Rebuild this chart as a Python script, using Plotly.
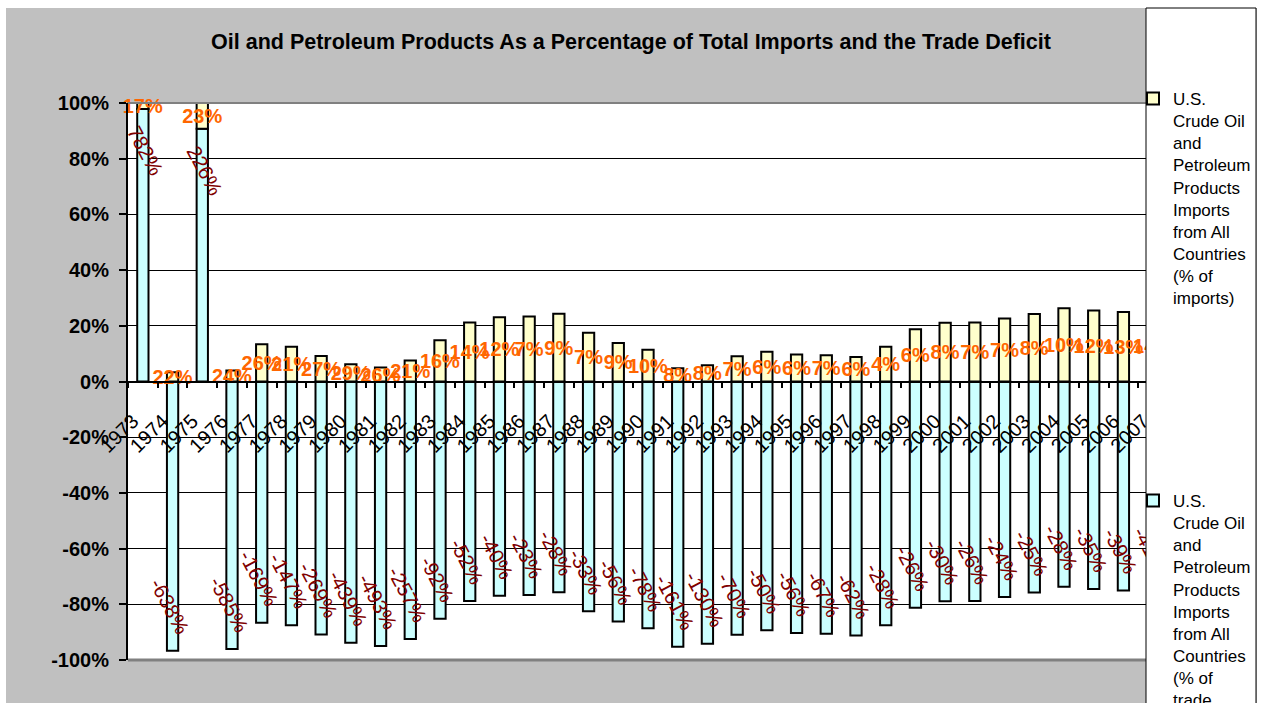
import plotly.graph_objects as go

# ---------------- data ----------------
years = ["1973", "1974", "1975", "1976", "1977", "1978", "1979", "1980", "1981", "1982",
         "1983", "1984", "1985", "1986", "1987", "1988", "1989", "1990", "1991", "1992",
         "1993", "1994", "1995", "1996", "1997", "1998", "1999", "2000", "2001", "2002",
         "2003", "2004", "2005", "2006", "2007"]
# U.S. crude oil and petroleum products imports, % of total imports
imports_pct = [17, 22, 23, 24, 26, 21, 27, 29, 26, 21,
               16, 14, 12, 7, 9, 7, 9, 10, 8, 8,
               7, 6, 6, 7, 6, 4, 6, 8, 7, 7,
               8, 10, 12, 13, 14]
# U.S. crude oil and petroleum products imports, % of trade deficit
deficit_pct = [782, -638, 226, -585, -169, -147, -269, -439, -493, -257,
               -92, -52, -40, -23, -28, -33, -56, -78, -161, -130,
               -70, -50, -56, -67, -62, -28, -26, -30, -26, -24,
               -25, -28, -35, -39, -41]
y_tick_vals = [100, 80, 60, 40, 20, 0, -20, -40, -60, -80, -100]
y_tick_text = ["100%", "80%", "60%", "40%", "20%", "0%", "-20%", "-40%", "-60%", "-80%", "-100%"]

title_text = "Oil and Petroleum Products As a Percentage of Total Imports and the Trade Deficit"
name_imports = "U.S.<br>Crude Oil<br>and<br>Petroleum<br>Products<br>Imports<br>from All<br>Countries<br>(% of<br>imports)"
name_deficit = "U.S.<br>Crude Oil<br>and<br>Petroleum<br>Products<br>Imports<br>from All<br>Countries<br>(% of<br>trade<br>deficit)"

# 100% stacked column: each category normalised by the sum of absolute values
totals = [abs(a) + abs(b) for a, b in zip(imports_pct, deficit_pct)]
imports_share = [a / t * 100 for a, t in zip(imports_pct, totals)]
deficit_share = [b / t * 100 for b, t in zip(deficit_pct, totals)]

NB = "\u00a0\u00a0"
imports_text = [f"{v}%" for v in imports_pct]
deficit_text = [(f"{v}%" + NB) if v < 0 else (NB + f"{v}%") for v in deficit_pct]

# ---------------- geometry ----------------
W, H = 1262, 703
L, R = 128, 1168
T, B = 103, 660


def px_x(px):
    return (px - L) / (R - L)


def px_y(py):
    return (B - py) / (B - T)


FONT = "Liberation Sans, Arial, sans-serif"

fig = go.Figure()
fig.add_trace(go.Bar(
    x=years, y=deficit_share, name=name_deficit,
    marker=dict(color="#CCFFFF", line=dict(color="black", width=2)),
    text=deficit_text, textposition="inside", insidetextanchor="end",
    textangle=62, constraintext="none", cliponaxis=False,
    textfont=dict(family=FONT, size=20.5, color="#800000"),
    legendgroup="deficit", legendrank=2, hoverinfo="skip",
))
fig.add_trace(go.Bar(
    x=years, y=imports_share, name=name_imports,
    marker=dict(color="#FFFFCC", line=dict(color="black", width=2)),
    text=imports_text, textposition="inside", insidetextanchor="middle",
    textangle=0, constraintext="none", cliponaxis=False,
    textfont=dict(family=FONT, size=20, color="#FF6600", weight="bold"),
    legendgroup="imports", legendrank=1, hoverinfo="skip",
))

shapes = [
    # white margins outside the grey chart area
    dict(type="rect", xref="paper", yref="paper", x0=px_x(0), x1=px_x(W), y0=px_y(8), y1=px_y(0),
         fillcolor="white", line=dict(width=0), layer="below"),
    dict(type="rect", xref="paper", yref="paper", x0=px_x(0), x1=px_x(6), y0=px_y(H), y1=px_y(0),
         fillcolor="white", line=dict(width=0), layer="below"),
    dict(type="rect", xref="paper", yref="paper", x0=px_x(1257), x1=px_x(W), y0=px_y(H), y1=px_y(0),
         fillcolor="white", line=dict(width=0), layer="below"),
    # plot-area border (top / bottom)
    dict(type="line", xref="paper", yref="paper", x0=0, x1=1, y0=1, y1=1,
         line=dict(color="#808080", width=2), layer="above"),
    dict(type="line", xref="paper", yref="paper", x0=0, x1=1, y0=0, y1=0,
         line=dict(color="#808080", width=3), layer="above"),
    # legend box
    dict(type="rect", xref="paper", yref="paper", x0=px_x(1146), x1=px_x(1256), y0=px_y(720), y1=px_y(8),
         fillcolor="white", line=dict(color="black", width=1), layer="above"),
]

fig.update_layout(
    width=W, height=H,
    margin=dict(l=L, r=W - R, t=T, b=H - B, autoexpand=False),
    paper_bgcolor="#C0C0C0", plot_bgcolor="white",
    barmode="relative", bargap=0.62,
    font=dict(family=FONT, color="black"),
    title=dict(text=title_text, x=0.5, xref="container", xanchor="center",
               y=1 - 41 / H, yref="container", yanchor="middle",
               font=dict(family=FONT, size=21.5, color="black", weight="bold")),
    xaxis=dict(type="category", categoryorder="array", categoryarray=years,
               range=[-0.5, 34.5], anchor="free", position=0.5,
               showline=True, linecolor="black", linewidth=2,
               ticks="outside", ticklen=5, tickwidth=1.5, tickcolor="black",
               tickson="boundaries", tickangle=-45,
               ticklabelstandoff=19, ticklabelshift=-10,
               tickfont=dict(family=FONT, size=20, color="black"),
               showgrid=False, zeroline=False, automargin=False),
    yaxis=dict(range=[-100, 100], tickmode="array", tickvals=y_tick_vals, ticktext=y_tick_text,
               tickfont=dict(family=FONT, size=20, color="black", weight="bold"),
               showline=True, linecolor="black", linewidth=2,
               ticks="outside", ticklen=7, tickwidth=1.5, tickcolor="black",
               showgrid=True, gridcolor="black", gridwidth=1, zeroline=False,
               ticklabelstandoff=6, automargin=False),
    legend=dict(x=px_x(1133), y=px_y(81), xanchor="left", yanchor="top",
                bgcolor="rgba(0,0,0,0)", borderwidth=0, valign="top",
                tracegroupgap=178, traceorder="grouped", maxheight=2000,
                font=dict(family=FONT, size=17, color="black")),
    shapes=shapes,
    showlegend=True,
)

fig.write_html("out.html")
